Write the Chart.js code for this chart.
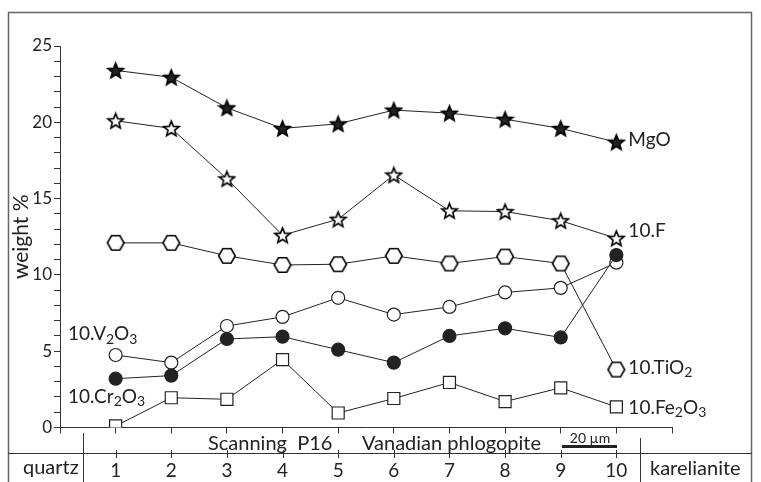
<!DOCTYPE html>
<html>
<head>
<meta charset="utf-8">
<script src="https://cdn.jsdelivr.net/npm/chart.js@4"></script>
<style>
  html, body { margin: 0; padding: 0; background: #fff; }
  #wrap { width: 761px; height: 482px; }
</style>
</head>
<body>
<div id="wrap"><canvas id="chart" width="761" height="482"></canvas></div>
<script>
// --- data (weight %) ---
const positions = [1, 2, 3, 4, 5, 6, 7, 8, 9, 10];
const mgo    = [23.4, 22.95, 20.95, 19.6, 19.9, 20.8, 20.6, 20.2, 19.6, 18.7];
const f10    = [20.1, 19.6, 16.3, 12.6, 13.65, 16.55, 14.2, 14.15, 13.55, 12.4];
const tio2   = [12.1, 12.1, 11.25, 10.65, 10.7, 11.25, 10.75, 11.2, 10.75, 3.8];
const v2o3   = [4.75, 4.25, 6.65, 7.25, 8.5, 7.4, 7.9, 8.85, 9.15, 10.8];
const cr2o3  = [3.2, 3.4, 5.8, 5.95, 5.1, 4.25, 6.0, 6.5, 5.9, 11.3];
const fe2o3  = [0.1, 1.95, 1.85, 4.45, 0.95, 1.9, 2.95, 1.7, 2.6, 1.35];
const yTicksMajor = [0, 5, 10, 15, 20, 25];

const INK = '#222';
const FONT = "Lato, 'Open Sans', sans-serif";
Chart.defaults.font.family = FONT;

/* marker images */
function starImg(fill) {
  const c = document.createElement('canvas');
  c.width = 19; c.height = 19;
  const g = c.getContext('2d');
  g.beginPath();
  for (let i = 0; i < 10; i++) {
    const r = i % 2 ? 3.5 : 8;
    const a = -Math.PI / 2 + i * Math.PI / 5;
    g.lineTo(9.5 + r * Math.cos(a), 10.2 + r * Math.sin(a));
  }
  g.closePath();
  g.fillStyle = fill; g.fill();
  g.lineWidth = 1.6; g.strokeStyle = '#000'; g.stroke();
  return c;
}
function hexImg() {
  const c = document.createElement('canvas');
  c.width = 20; c.height = 18;
  const g = c.getContext('2d');
  g.beginPath();
  for (let k = 0; k < 6; k++) {
    const a = k * Math.PI / 3;
    g.lineTo(10 + 8.3 * Math.cos(a), 9 + 8.3 * Math.sin(a));
  }
  g.closePath();
  g.fillStyle = '#fff'; g.fill();
  g.lineWidth = 1.6; g.strokeStyle = '#000'; g.stroke();
  return c;
}

function pts(vals) { return positions.map((x, i) => ({ x: x, y: vals[i] })); }

function serie(label, vals, style, extra) {
  return Object.assign({
    label: label,
    data: pts(vals),
    borderColor: INK,
    borderWidth: 1,
    pointStyle: style,
    pointBorderColor: INK,
    pointBorderWidth: 1.2,
    pointBackgroundColor: '#fff',
    showLine: true,
    tension: 0
  }, extra || {});
}

/* chemistry label with subscripts */
function chem(ctx, parts, x, y) {
  let cx = x;
  ctx.textBaseline = 'middle';
  ctx.textAlign = 'left';
  parts.forEach(p => {
    const sub = /^[0-9]$/.test(p) && cx !== x;
    ctx.font = (sub ? '14px ' : '19px ') + FONT;
    ctx.fillText(p, cx, sub ? y + 5 : y);
    cx += ctx.measureText(p).width;
  });
}

const decor = {
  id: 'decor',
  afterDraw(chart) {
    const ctx = chart.ctx;
    const xs = chart.scales.x, ys = chart.scales.y;
    ctx.save();
    // outer frame
    ctx.strokeStyle = '#666'; ctx.lineWidth = 1.5;
    ctx.strokeRect(8.5, 12.5, 743, 480);
    // lower table
    ctx.strokeStyle = '#333'; ctx.lineWidth = 1;
    ctx.beginPath();
    ctx.moveTo(8, 453.5); ctx.lineTo(752, 453.5);
    ctx.moveTo(83.5, 433); ctx.lineTo(83.5, 482);
    ctx.moveTo(640.5, 438); ctx.lineTo(640.5, 482);
    positions.forEach(p => {
      const px = Math.round(xs.getPixelForValue(p)) + 0.5;
      ctx.moveTo(px, 450); ctx.lineTo(px, 458);
    });
    ctx.stroke();

    ctx.fillStyle = INK;
    ctx.font = '20px ' + FONT;
    ctx.textBaseline = 'alphabetic';
    ctx.textAlign = 'left';
    ctx.fillText('Scanning  P16', 208, 450);
    ctx.fillText('Vanadian phlogopite', 362, 450);
    ctx.textBaseline = 'middle';
    ctx.fillText('quartz', 23, 468);
    ctx.fillText('karelianite', 650, 469);
    // scale bar
    ctx.font = '14px ' + FONT;
    ctx.textAlign = 'center';
    ctx.textBaseline = 'alphabetic';
    ctx.fillText('20 \u00b5m', 590, 443);
    ctx.fillRect(562, 445, 55, 3);

    // series labels
    const lx = xs.getPixelForValue(10) + 12;
    const yl = v => ys.getPixelForValue(v);
    chem(ctx, ['MgO'], lx, yl(mgo[9]) - 2);
    chem(ctx, ['10.F'], lx, yl(f10[9]) - 7);
    chem(ctx, ['10.TiO', '2'], lx, yl(tio2[9]) - 2);
    chem(ctx, ['10.Fe', '2', 'O', '3'], lx, yl(fe2o3[9]) + 1);
    chem(ctx, ['10.V', '2', 'O', '3'], 68, yl(v2o3[0]) - 21);
    chem(ctx, ['10.Cr', '2', 'O', '3'], 68, yl(cr2o3[0]) + 18);
    ctx.restore();
  }
};

new Chart(document.getElementById('chart'), {
  type: 'scatter',
  data: {
    datasets: [
      serie('10.F', f10, starImg('#fff')),
      serie('10.Cr2O3', cr2o3, 'circle', { pointRadius: 6.5, pointBackgroundColor: INK }),
      serie('10.V2O3', v2o3, 'circle', { pointRadius: 6.5 }),
      serie('10.TiO2', tio2, hexImg()),
      serie('MgO', mgo, starImg(INK)),
      serie('10.Fe2O3', fe2o3, 'rect', { pointRadius: 8.5 })
    ]
  },
  options: {
    responsive: false,
    devicePixelRatio: 1,
    animation: false,
    layout: { padding: { top: 46, right: 89, left: 0, bottom: 0 } },
    plugins: { legend: { display: false }, tooltip: { enabled: false } },
    scales: {
      x: {
        type: 'linear', min: 0, max: 11,
        afterFit(s) { s.height = 54.5; },
        ticks: {
          stepSize: 1, autoSkip: false, maxRotation: 0,
          callback: v => positions.includes(v) ? String(v) : '',
          font: { size: 19 }, color: INK, padding: 26
        },
        grid: { drawOnChartArea: false, tickLength: 6, color: '#333', lineWidth: 1 },
        border: { color: '#333', width: 1 }
      },
      y: {
        type: 'linear', min: 0, max: 25,
        afterFit(s) { s.width = 60; },
        ticks: {
          stepSize: 1, autoSkip: false,
          callback: v => yTicksMajor.includes(v) ? String(v) : '',
          font: { size: 17 }, color: INK, padding: 2
        },
        grid: { drawOnChartArea: false, tickLength: 6, color: '#333', lineWidth: 1 },
        border: { color: '#333', width: 1 },
        title: {
          display: true, text: 'weight %', color: INK,
          font: { size: 21 }, padding: { top: 9, bottom: 0 }
        }
      }
    }
  },
  plugins: [decor]
});
</script>
</body>
</html>
